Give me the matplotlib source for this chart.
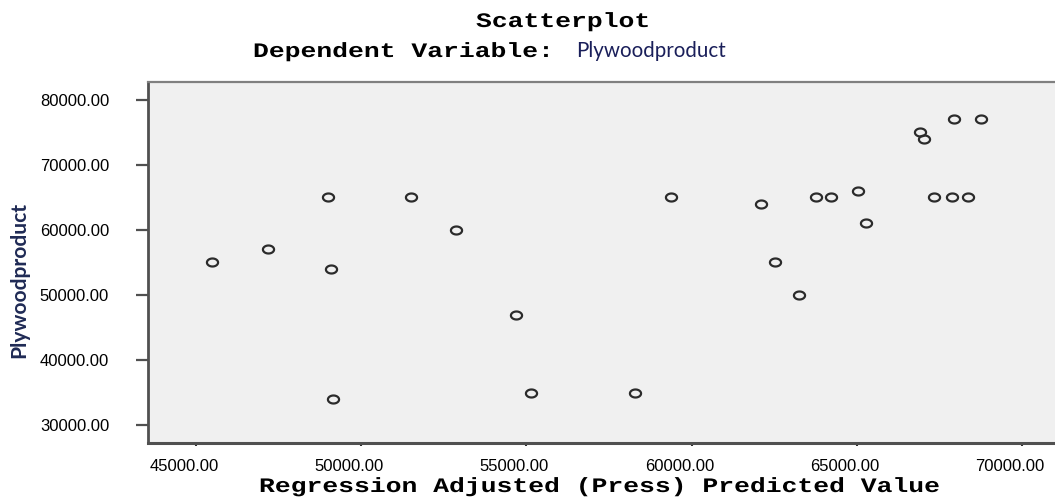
import matplotlib
matplotlib.use('Agg')
import matplotlib.pyplot as plt
from matplotlib.path import Path
from matplotlib.transforms import ScaledTranslation, Affine2D
from matplotlib.patheffects import AbstractPathEffect
import numpy as np

# ---- data ----
predicted = [45490, 47190, 48980, 49080, 49130, 51520, 52880, 54690, 55140,
             58280, 59390, 62110, 62520, 63250, 63780, 64230, 65040, 65290,
             66910, 67040, 67340, 67870, 68360, 67930, 68760]
plywood = [55000, 57000, 65000, 54000, 34000, 65000, 60000, 47000, 35000,
           35000, 65000, 64000, 55000, 50000, 65000, 65000, 66000, 61000,
           75000, 74000, 65000, 65000, 65000, 77000, 77000]
x_ticks = [45000, 50000, 55000, 60000, 65000, 70000]
y_ticks = [30000, 40000, 50000, 60000, 70000, 80000]
title = "Scatterplot"
subtitle_left = "Dependent Variable:"
subtitle_right = "Plywoodproduct"
x_label = "Regression Adjusted (Press) Predicted Value"
y_label = "Plywoodproduct"

W, H, DPI = 1055, 497, 100
fig = plt.figure(figsize=(W / DPI, H / DPI), dpi=DPI)
fig.patch.set_facecolor('white')


class VScale(AbstractPathEffect):
    """Squash glyphs vertically toward the baseline (wide, short bitmap-like font)."""
    def __init__(self, sy):
        super().__init__()
        self.sy = sy

    def draw_path(self, renderer, gc, tpath, affine, rgbFace=None):
        x0, y0 = affine.transform((0, 0))
        a = affine + Affine2D().translate(-x0, -y0).scale(1, self.sy).translate(x0, y0)
        renderer.draw_path(gc, tpath, a, rgbFace)


def fx(px):
    return px / W


def fy(py):
    return 1 - py / H


ax = fig.add_axes([fx(148), fy(443), fx(1056) - fx(148), fy(82) - fy(443)])
ax.set_facecolor('#f0f0f0')
ax.set_xlim(43545, 71030)
ax.set_ylim(27231, 82769)

# elliptical open marker
th = np.linspace(0, 2 * np.pi, 64)
ell = Path(np.column_stack([np.cos(th), 0.72 * np.sin(th)]), closed=True)
ax.plot(predicted, plywood, linestyle='none', marker=ell, markersize=8,
        markerfacecolor='none', markeredgecolor='#2b2b2b', markeredgewidth=1.6)

ax.spines['right'].set_visible(False)
ax.spines['left'].set_color('#505050')
ax.spines['left'].set_linewidth(2)
ax.spines['bottom'].set_color('#505050')
ax.spines['bottom'].set_linewidth(2.2)
ax.spines['top'].set_color('#808080')
ax.spines['top'].set_linewidth(1.6)

ax.set_xticks(x_ticks)
ax.set_xticklabels([f"{v:.2f}" for v in x_ticks])
ax.set_yticks(y_ticks)
ax.set_yticklabels([f"{v:.2f}" for v in y_ticks])
ax.tick_params(axis='y', direction='out', length=9, width=1.6, color='#505050',
               pad=19, labelsize=12, labelcolor='black')
ax.tick_params(axis='x', direction='out', length=2.5, width=1.5, color='#303030',
               pad=9, labelsize=12, labelcolor='black')
for lab in ax.get_xticklabels() + ax.get_yticklabels():
    lab.set_family(['Liberation Sans', 'DejaVu Sans'])
off = ScaledTranslation(-12 / DPI, 0, fig.dpi_scale_trans)
for lab in ax.get_xticklabels():
    lab.set_transform(lab.get_transform() + off)

mono = ['Liberation Mono', 'DejaVu Sans Mono']
squash = [VScale(0.78)]
fig.text(fx(476), fy(27), title, family=mono, weight='bold', fontsize=19,
         ha='left', va='baseline', color='black', path_effects=squash)
fig.text(fx(253), fy(57), subtitle_left, family=mono, weight='bold',
         fontsize=19, ha='left', va='baseline', color='black', path_effects=squash)
t_ply = fig.text(fx(576), fy(51), subtitle_right, family=['Lato', 'DejaVu Sans'],
                 fontsize=14, ha='left', va='center', color='#1a1f5a')
fig.text(fx(259), fy(492), x_label, family=mono, weight='bold', fontsize=19,
         ha='left', va='baseline', color='black', path_effects=squash)
t_y = fig.text(fx(19), fy(280), y_label, family=['Lato', 'DejaVu Sans'],
               weight='bold', fontsize=14, rotation=90, ha='center',
               va='center', color='#1f2a55')

# fit sans texts to measured spans
fig.canvas.draw()
r = fig.canvas.get_renderer()
for t, target, dim in [(t_ply, 150, 'w'), (t_y, 156, 'h')]:
    for _ in range(2):
        bb = t.get_window_extent(r)
        cur = bb.width if dim == 'w' else bb.height
        t.set_fontsize(t.get_fontsize() * target / cur)
        fig.canvas.draw()

fig.savefig('out.png', dpi=DPI)
